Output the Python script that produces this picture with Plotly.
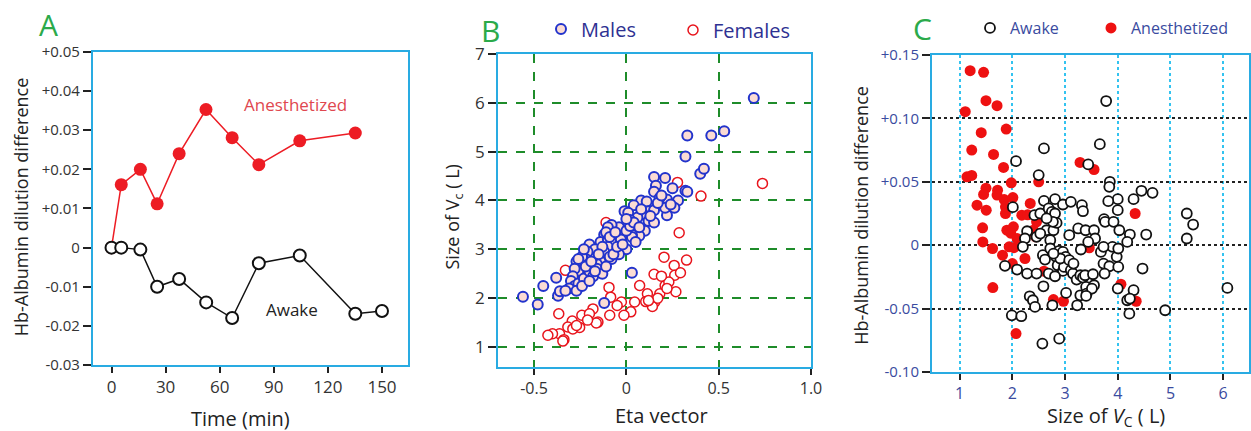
import plotly.graph_objects as go

# ---------------- Panel A data ----------------
a_time_anest = [0, 5.4, 16, 25.3, 37.5, 52.4, 66.9, 81.7, 104.4, 135.2]
a_anest = [0, 0.0161, 0.0200, 0.0112, 0.0240, 0.0353, 0.0281, 0.0212, 0.0273, 0.0293]
a_time_awake = [0, 5.4, 16, 25.3, 37.5, 52.5, 66.9, 81.7, 104.4, 135.2, 150]
a_awake = [0, 0, -0.0005, -0.0100, -0.0080, -0.0140, -0.0180, -0.0040, -0.0020, -0.0169, -0.0162]
a_xticks = [0, 30, 60, 90, 120, 150]
a_yticks = [-0.03, -0.02, -0.01, 0, 0.01, 0.02, 0.03, 0.04, 0.05]
a_yticklabels = ["-0.03", "-0.02", "-0.01", "0", "+0.01", "+0.02", "+0.03", "+0.04", "+0.05"]

# ---------------- Panel B data ----------------
b_male_eta = [-0.56, -0.48, -0.45, -0.38, -0.37, -0.36, -0.12, 0.03, 0.69, 0.33, 0.46, 0.53, 0.32, 0.40, 0.42, 0.32, 0.33,
              0.15, 0.21, 0.16, 0.25, 0.15, 0.28, 0.22, 0.18, 0.08, 0.11, 0.04, 0.26, 0.22, 0.21, 0.12, 0.15, 0.09, 0.06,
              -0.01, 0.01, 0.02, 0.12, 0.15, 0.10, 0.05, 0.07, 0.03, 0.01, -0.02, -0.04, -0.08, -0.10, -0.12, -0.14,
              -0.10, -0.06, -0.03, 0.00, -0.04, -0.08, -0.10, -0.12, -0.14, -0.16, -0.18, -0.20, -0.17, -0.21, -0.22,
              -0.24, -0.25, -0.26, -0.27, -0.28, -0.29, -0.30, -0.28, -0.26, -0.23, -0.20, -0.18, -0.16, -0.13, -0.11,
              -0.09, -0.07, -0.05, -0.02, 0.03, 0.05, -0.13, -0.23, -0.26, -0.31, -0.33, -0.27, -0.24, -0.22, -0.19,
              -0.15, -0.11, -0.09, -0.06, 0.00, 0.02, 0.04, 0.07, 0.08, 0.13, 0.17, 0.19, 0.24, 0.00, -0.20, -0.17]
b_male_vc = [2.03, 1.87, 2.25, 2.42, 2.05, 2.14, 1.90, 2.52, 6.10, 5.33, 5.33, 5.42, 4.90, 4.55, 4.65, 4.20, 4.18,
             4.48, 4.46, 4.30, 4.25, 4.18, 4.00, 4.02, 4.05, 4.00, 3.98, 3.90, 3.85, 3.70, 3.85, 3.78, 3.80, 3.72, 3.65,
             3.78, 3.75, 3.60, 3.58, 3.55, 3.38, 3.42, 3.28, 3.30, 3.50, 3.30, 3.45, 3.50, 3.45, 3.30, 3.15,
             3.20, 3.15, 3.20, 3.00, 2.90, 2.80, 3.05, 2.95, 2.75, 2.70, 2.85, 3.10, 3.00, 2.95, 2.80,
             2.85, 2.70, 2.55, 2.75, 2.60, 2.45, 2.35, 2.25, 2.30, 2.40, 2.55, 2.45, 2.60, 2.50, 2.65,
             2.85, 2.90, 3.05, 3.10, 3.25, 3.15, 3.05, 3.00, 2.80, 2.20, 2.15, 2.15, 2.25, 2.65, 2.75,
             2.90, 3.35, 3.25, 3.35, 3.38, 3.48, 3.55, 3.45, 3.82, 3.68, 3.95, 4.10, 3.92, 3.62, 2.35, 2.55]
b_female_eta = [0.737, 0.404, 0.277, 0.286, 0.326, 0.204, 0.259, 0.262, 0.293, 0.150, 0.072, 0.268, 0.181, 0.114,
                0.21, 0.23, 0.154, 0.141, 0.17, 0.105, 0.045, 0.024, -0.027, -0.013, -0.09, -0.094, -0.085, -0.181,
                -0.154, -0.163, -0.241, -0.253, -0.293, -0.317, -0.366, -0.362, -0.338, -0.344, -0.40, -0.425,
                -0.29, -0.27, -0.20, -0.33, -0.11, -0.07, 0.19, 0.12, 0.22, -0.05, -0.21]
b_female_vc = [4.35, 4.09, 4.37, 3.34, 2.78, 2.84, 2.67, 2.47, 2.52, 2.49, 2.26, 2.13, 2.09, 2.09,
               2.26, 2.33, 1.92, 1.83, 2.00, 1.93, 1.92, 1.72, 1.92, 1.65, 1.65, 2.22, 2.02, 1.78,
               1.51, 1.49, 1.65, 1.40, 1.53, 1.41, 1.68, 1.27, 1.15, 1.12, 1.27, 1.24,
               1.37, 1.44, 1.68, 2.57, 3.55, 3.05, 2.45, 1.95, 2.20, 1.85, 1.55]
b_xticks = [-0.5, 0, 0.5, 1.0]
b_xticklabels = ["-0.5", "0", "0.5", "1.0"]
b_yticks = [1, 2, 3, 4, 5, 6, 7]

# ---------------- Panel C data ----------------
c_awake_vc = [3.78, 3.66, 2.60, 2.07, 3.44, 2.50, 3.85, 3.84, 4.45, 4.66, 4.30, 4.00, 3.82, 2.81, 2.96, 3.11, 2.60,
              2.01, 2.42, 2.53, 2.69, 2.75, 2.81, 3.32, 3.34, 4.00, 3.74, 3.76, 3.92, 3.08, 3.25, 3.39, 3.55, 3.57,
              3.44, 4.03, 4.23, 4.18, 4.54, 5.31, 5.43, 5.31, 2.28, 2.24, 2.20, 2.65, 2.72, 2.78, 2.84, 2.77, 2.65,
              2.58, 2.62, 2.72, 2.83, 2.89, 2.96, 3.01, 2.86, 2.96, 2.98, 3.11, 3.15, 3.22, 3.29, 3.34, 3.40, 3.29,
              3.41, 3.38, 3.53, 3.55, 3.51, 3.30, 3.73, 3.68, 3.84, 3.90, 3.98, 4.01, 3.75, 4.00, 4.30, 4.18, 4.23,
              4.22, 4.47, 4.90, 6.08, 1.86, 2.09, 2.28, 2.46, 2.69, 2.59, 2.33, 2.39, 2.43, 1.99, 2.17, 2.76, 3.23,
              3.40, 2.89, 2.57, 3.02, 2.81, 2.91, 2.78, 3.08, 3.16, 2.46, 2.53, 3.73, 4.01]
c_awake_diff = [0.1137, 0.0797, 0.0763, 0.0663, 0.0637, 0.0553, 0.0500, 0.0460, 0.0429, 0.0413, 0.0363, 0.0363,
                0.0347, 0.0363, 0.0321, 0.0342, 0.0350, 0.0300, 0.0237, 0.0250, 0.0290, 0.0263, 0.0250, 0.0316,
                0.0268, 0.0276, 0.0205, 0.0184, 0.0184, 0.0079, 0.0132, 0.0118, 0.0118, 0.0053, 0.0026, 0.0118,
                0.0084, 0.0026, 0.0084, 0.0250, 0.0163, 0.0053, 0.0110, 0.0053, -0.0013, 0.0118, 0.0040, 0.0118,
                0.0176, 0.0184, 0.0211, -0.0079, -0.0113, -0.0026, -0.0092, -0.0045, -0.0053, -0.0092, -0.0158,
                -0.0203, -0.0171, -0.0197, -0.0224, -0.0271, -0.0237, -0.0255, -0.0329, -0.0395, -0.0382, -0.0237,
                -0.0229, -0.0316, -0.0342, -0.0034, -0.0145, -0.0053, -0.0166, -0.0013, -0.0092, -0.0171, -0.0224,
                -0.0342, -0.0355, -0.0434, -0.0421, -0.0540, -0.0184, -0.0513, -0.0337, -0.0163, -0.0192, -0.0224,
                -0.0224, -0.0224, -0.0324, -0.0403, -0.0434, -0.0487, -0.0553, -0.0560, -0.0474, -0.0474, -0.0400,
                -0.0737, -0.0776, -0.0376, -0.0245, -0.0105, -0.0066, -0.0118, -0.0145, 0.0066, 0.0092, -0.0013,
                -0.0026]
c_anest_vc = [1.20, 1.455, 1.107, 1.50, 1.71, 1.41, 1.884, 1.23, 1.644, 1.833, 1.139, 1.23, 1.98, 2.50, 3.285, 3.55,
              1.50, 1.455, 1.72, 1.71, 1.33, 1.505, 1.846, 1.87, 2.01, 1.87, 2.34, 2.18, 1.436, 1.896, 2.02, 2.46,
              2.40, 2.53, 2.445, 1.44, 1.625, 1.814, 1.94, 2.03, 2.00, 2.24, 1.63, 2.60, 2.78, 2.97, 2.07, 3.46,
              4.06, 4.33, 4.35, 2.36, 2.29, 1.97, 2.09]
c_anest_diff = [0.1376, 0.1363, 0.1053, 0.1140, 0.1100, 0.0887, 0.0916, 0.0750, 0.0716, 0.0613, 0.0539, 0.0550,
                0.0492, 0.0500, 0.0653, 0.0597, 0.0450, 0.0400, 0.0434, 0.0395, 0.0316, 0.0276, 0.0360, 0.0303,
                0.0376, 0.0250, 0.0329, 0.0237, 0.0137, 0.0118, 0.0145, 0.0184, 0.0118, 0.0224, 0.0066, 0.0026,
                -0.0026, -0.0079, -0.0013, -0.0020, -0.0145, -0.0105, -0.0334, -0.0205, -0.0429, -0.0442, -0.0697,
                -0.0021, -0.0308, 0.0250, -0.0442, 0.0110, 0.0240, 0.0095, 0.0052]
c_xticks = [1, 2, 3, 4, 5, 6]
c_yticks = [-0.10, -0.05, 0, 0.05, 0.10, 0.15]
c_yticklabels = ["-0.10", "-0.05", "0", "+0.05", "+0.10", "+0.15"]

# ---------------- styles ----------------
FONT = "Open Sans, DejaVu Sans, sans-serif"
CYAN = "#29ABE2"
GREEN = "#2BAA4A"
RED = "#ED1C24"
NAVY = "#2E3192"
CBLUE = "#3A4BA0"

fig = go.Figure()

# Panel A
fig.add_trace(go.Scatter(x=a_time_anest, y=a_anest, mode="lines+markers", xaxis="x", yaxis="y",
                         line=dict(color=RED, width=1.5),
                         marker=dict(size=13, color=RED, line=dict(width=0)), showlegend=False))
fig.add_trace(go.Scatter(x=a_time_awake, y=a_awake, mode="lines+markers", xaxis="x", yaxis="y",
                         line=dict(color="#111111", width=1.5),
                         marker=dict(size=12, color="white", line=dict(color="#111111", width=2)), showlegend=False))

# Panel B
fig.add_trace(go.Scatter(x=b_female_eta, y=b_female_vc, mode="markers", xaxis="x2", yaxis="y2", name="Females",
                         marker=dict(size=10, color="white", line=dict(color="#E8141C", width=1.5)),
                         legend="legend3"))
fig.add_trace(go.Scatter(x=b_male_eta, y=b_male_vc, mode="markers", xaxis="x2", yaxis="y2", name="Males",
                         marker=dict(size=10, color="#FBDCD4", line=dict(color="#2233CC", width=2)),
                         legend="legend2"))

# Panel C
fig.add_trace(go.Scatter(x=c_anest_vc, y=c_anest_diff, mode="markers", xaxis="x3", yaxis="y3", name="Anesthetized",
                         marker=dict(size=11, color="#EE1111", line=dict(width=0)),
                         legend="legend5"))
fig.add_trace(go.Scatter(x=c_awake_vc, y=c_awake_diff, mode="markers", xaxis="x3", yaxis="y3", name="Awake",
                         marker=dict(size=10, color="white", line=dict(color="#111111", width=1.8)),
                         legend="legend4"))

axis_common = dict(showline=True, mirror=True, linecolor=CYAN, linewidth=2, ticks="outside",
                   tickcolor="#222222", tickwidth=2, zeroline=False)


def leg(xpix, ypix, size, color):
    return dict(orientation="h", x=xpix / 1251, y=1 - ypix / 431, xref="container", yref="container",
                xanchor="left", yanchor="middle", font=dict(size=size, color=color, family=FONT),
                bgcolor="rgba(0,0,0,0)", itemsizing="trace", borderwidth=0)


fig.update_layout(
    width=1251, height=431, margin=dict(l=0, r=0, t=0, b=0, autoexpand=False),
    paper_bgcolor="white", plot_bgcolor="white",
    font=dict(family=FONT, color="#222222"),
    xaxis=dict(domain=[0.0743, 0.3261], range=[-10.3, 164.4], tickvals=a_xticks, ticklen=6,
               showgrid=False, tickfont=dict(size=17, color="#333333"), anchor="y", **axis_common),
    yaxis=dict(domain=[0.1531, 0.8794], range=[-0.03, 0.05], tickvals=a_yticks, ticktext=a_yticklabels,
               ticklen=8, showgrid=False, tickfont=dict(size=15, color="#333333"), anchor="x", **axis_common),
    xaxis2=dict(domain=[0.3981, 0.6483], range=[-0.695, 1.0], tickvals=b_xticks, ticktext=b_xticklabels,
                ticklen=6, showgrid=True, gridcolor="#1E8C2A", griddash="dash", gridwidth=1.5,
                tickfont=dict(size=16, color="#333333"), anchor="y2", **axis_common),
    yaxis2=dict(domain=[0.1485, 0.8747], range=[0.59, 7.0], tickvals=b_yticks, ticklen=8,
                showgrid=True, gridcolor="#1E8C2A", griddash="dash", gridwidth=1.5,
                tickfont=dict(size=17, color="#333333"), anchor="x2", **axis_common),
    xaxis3=dict(domain=[0.7450, 0.9984], range=[0.476, 6.49], tickvals=c_xticks, ticklen=6,
                showgrid=True, gridcolor="#33C3F0", griddash="dot", gridwidth=1.5,
                tickfont=dict(size=16, color=CBLUE), anchor="y3", **axis_common),
    yaxis3=dict(domain=[0.1369, 0.8724], range=[-0.10, 0.15], tickvals=c_yticks, ticktext=c_yticklabels,
                ticklen=8, showgrid=True, gridcolor="#222222", griddash="dot", gridwidth=1.5,
                tickfont=dict(size=15, color=CBLUE), anchor="x3", **axis_common),
    legend2=leg(560 - 19, 29, 20, NAVY),
    legend3=leg(692 - 19, 30, 20, NAVY),
    legend4=leg(989 - 19, 28, 16, CBLUE),
    legend5=leg(1110 - 19, 28, 16, CBLUE),
)

annotations = [
    # panel letters
    dict(text="A", x=0.0384, y=0.942, font=dict(size=30, color=GREEN)),
    dict(text="B", x=0.3917, y=0.930, font=dict(size=30, color=GREEN)),
    dict(text="C", x=0.7378, y=0.935, font=dict(size=30, color=GREEN)),
    # axis titles
    dict(text="Hb-Albumin dilution difference", x=0.017, y=0.5197, textangle=-90, font=dict(size=18, color="#222222")),
    dict(text="Time (min)", x=0.1926, y=0.030, font=dict(size=20, color="#222222")),
    dict(text="Size of V<sub>c</sub> ( L)", x=0.3625, y=0.4965, textangle=-90, font=dict(size=18, color="#222222")),
    dict(text="Eta vector", x=0.5284, y=0.037, font=dict(size=20, color="#222222")),
    dict(text="Hb-Albumin dilution difference", x=0.688, y=0.501, textangle=-90, font=dict(size=18, color="#222222")),
    dict(text="Size of <i>V</i><sub>C</sub> ( L)", x=0.8843, y=0.0325, font=dict(size=20, color="#222222")),
]
for a in annotations:
    a.update(xref="paper", yref="paper", showarrow=False, xanchor="center", yanchor="middle")
    a["font"]["family"] = FONT

# in-plot labels of panel A
annotations.append(dict(text="Anesthetized", x=102, y=0.0365, xref="x", yref="y", showarrow=False,
                        font=dict(size=17, color="#E0474F", family=FONT)))
annotations.append(dict(text="Awake", x=100, y=-0.0157, xref="x", yref="y", showarrow=False,
                        font=dict(size=17, color="#222222", family=FONT)))
fig.update_layout(annotations=annotations)

fig.write_html("out.html", config={"displayModeBar": False},
               post_script="document.body.style.margin='0px';document.body.style.overflow='hidden';")
